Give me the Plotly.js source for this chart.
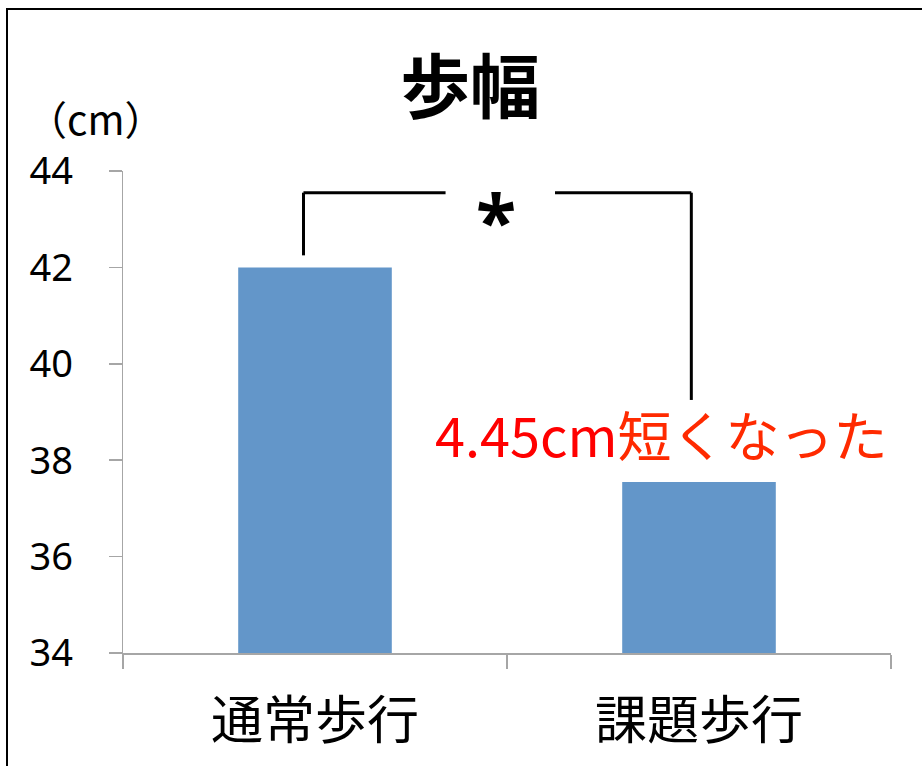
<!DOCTYPE html>
<html>
<head>
<meta charset="utf-8">
<script src="https://cdn.plot.ly/plotly-3.0.1.min.js"></script>
<style>
html,body{margin:0;padding:0;background:#fff;}
#wrap{position:relative;width:922px;height:766px;overflow:hidden;}
#chart{width:922px;height:766px;}
#frame{position:absolute;left:6px;top:8px;width:1000px;height:1000px;border:2.5px solid #000;pointer-events:none;}
</style>
</head>
<body>
<div id="wrap"><div id="chart"></div><div id="frame"></div></div>
<script>
const categories = ['通常歩行', '課題歩行'];
const values = [42.0, 37.55];
const yTicks = [34, 36, 38, 40, 42, 44];
const chartTitle = '歩幅';
const unitLabel = '（cm）';
const diffLabel = '4.45cm';
const diffText = '短くなった';
const sigMark = '*';

// bracket geometry in data units (category index / value)
const brLeftX = -0.03, brRightX = 0.98;
const brTopY = 43.55, brLeftBottom = 42.25, brRightBottom = 39.25;
const gapL = 0.34, gapR = 0.625;

const jp = '"Noto Sans CJK JP", "Noto Sans", sans-serif';
const lineStyle = {color: '#000', width: 3};

const data = [{
  type: 'bar',
  x: categories,
  y: values,
  marker: {color: '#6396c9'},
  width: 0.4,
  hoverinfo: 'none'
}];

const layout = {
  width: 922, height: 766,
  margin: {l: 123, r: 31, t: 171, b: 113},
  paper_bgcolor: '#fff', plot_bgcolor: '#fff',
  showlegend: false,
  title: {text: '<b>' + chartTitle + '</b>', font: {family: jp, size: 70, color: '#000'},
          x: 0.452, xref: 'paper', xanchor: 'center', y: 0.885, yref: 'container', yanchor: 'middle'},
  xaxis: {
    type: 'category',
    range: [-0.5, 1.5],
    showline: true, linecolor: '#a6a6a6', linewidth: 1.5,
    ticks: 'outside', tickson: 'boundaries', ticklen: 14, tickcolor: '#a6a6a6', tickwidth: 1.5,
    tickfont: {family: jp, size: 52, color: '#000'},
    ticklabelstandoff: 22,
    showgrid: false, zeroline: false, fixedrange: true
  },
  yaxis: {
    range: [34, 44],
    tickvals: yTicks,
    ticktext: yTicks.map(String),
    showline: true, linecolor: '#a6a6a6', linewidth: 1.5,
    ticks: 'outside', ticklen: 13, tickcolor: '#a6a6a6', tickwidth: 1.5,
    tickfont: {family: '"Noto Sans", sans-serif', size: 38, color: '#000'},
    ticklabelstandoff: 28,
    showgrid: false, zeroline: false, fixedrange: true
  },
  shapes: [
    {type: 'line', xref: 'x', yref: 'y', x0: brLeftX, x1: brLeftX, y0: brLeftBottom, y1: brTopY, line: lineStyle},
    {type: 'line', xref: 'x', yref: 'y', x0: brLeftX, x1: gapL, y0: brTopY, y1: brTopY, line: lineStyle},
    {type: 'line', xref: 'x', yref: 'y', x0: gapR, x1: brRightX, y0: brTopY, y1: brTopY, line: lineStyle},
    {type: 'line', xref: 'x', yref: 'y', x0: brRightX, x1: brRightX, y0: brTopY, y1: brRightBottom, line: lineStyle}
  ],
  annotations: [
    {xref: 'paper', yref: 'paper', x: -0.128, y: 1.11, xanchor: 'left', yanchor: 'middle',
     text: unitLabel, showarrow: false, font: {family: jp, size: 40, color: '#000'}},
    {xref: 'x', yref: 'y', x: (gapL + gapR) / 2 - 0.01, y: brTopY - 0.55, xanchor: 'center', yanchor: 'middle',
     text: '<b>' + sigMark + '</b>', showarrow: false, font: {family: '"Noto Sans", sans-serif', size: 74, color: '#000'}},
    {xref: 'x', yref: 'y', x: 0.9, y: 38.55, xanchor: 'center', yanchor: 'middle',
     text: diffLabel + '<span style="color:#ff2a00">' + diffText + '</span>', showarrow: false,
     font: {family: jp, size: 54, color: '#ff0000'}}
  ]
};

Plotly.newPlot('chart', data, layout, {displayModeBar: false, staticPlot: true});
</script>
</body>
</html>
